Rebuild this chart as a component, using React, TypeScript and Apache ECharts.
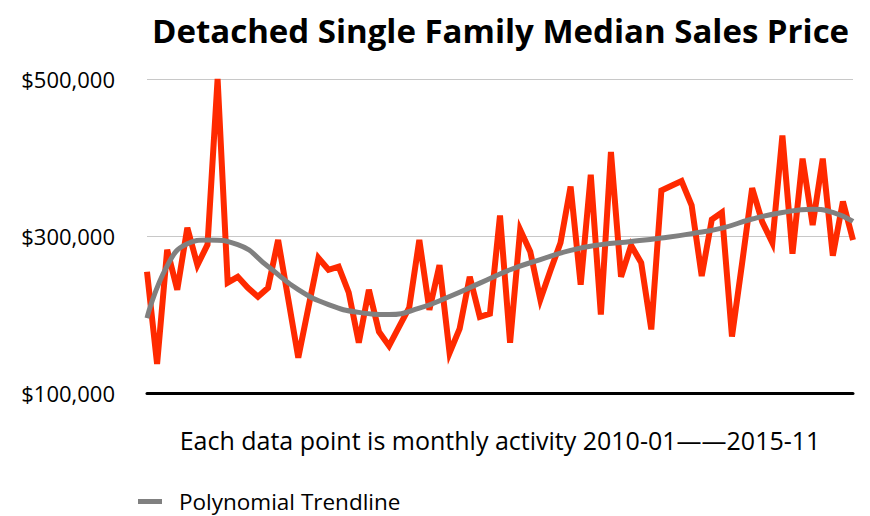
import React, { useEffect, useRef } from "react";
import * as echarts from "echarts";

const titleText = "Detached Single Family Median Sales Price";
const xCaption = "Each data point is monthly activity 2010-01——2015-11";
const trendName = "Polynomial Trendline";
const priceName = "Median Sales Price";

// monthly median sales price, 2010-01 .. 2015-11 (71 months)
const prices = [
  254500, 137000, 282500, 231600, 310600, 263000, 289000, 500000, 240500, 248000,
  234000, 222700, 234000, 295000, 220000, 145000, 208700, 272000, 257000, 261000,
  228000, 164000, 231600, 178000, 160000, 184500, 208700, 295000, 206000, 263000,
  151000, 182000, 248000, 197000, 201000, 326000, 164000, 308000, 280000, 219000,
  256000, 291500, 363000, 238000, 378000, 200000, 407000, 248000, 288000, 266000,
  181000, 358000, 364000, 370000, 339000, 249000, 321000, 330000, 172000, 265000,
  361000, 318000, 291500, 428000, 277500, 398500, 314000, 398500, 275000, 344000,
  295000,
];

// polynomial trendline read at sample months
const trendMonths = [0, 2, 4, 6, 9, 12, 15, 18, 21, 24, 27, 30, 33, 36, 39, 42, 45, 48, 51, 54, 57, 60, 63, 66, 68, 70];
const trendValues = [
  195500, 262000, 290000, 295000, 289000, 261000, 231600, 212500, 202700, 200000,
  208000, 223000, 240000, 257000, 270000, 281700, 289000, 293000, 297500, 303000,
  310000, 321700, 330000, 334000, 330000, 318600,
];

const yTicks = [100000, 300000, 500000];

export default function App() {
  const ref = useRef<HTMLDivElement>(null);
  useEffect(() => {
    if (!ref.current) return;
    const chart = echarts.init(ref.current, null, { renderer: "svg" });
    const font = "'Open Sans', Lato, sans-serif";
    chart.setOption({
      animation: false,
      backgroundColor: "#ffffff",
      title: {
        text: titleText,
        left: 147,
        top: 9,
        textStyle: { fontFamily: font, fontSize: 33, fontWeight: "bold", color: "#000" },
      },
      legend: {
        data: [trendName],
        left: 133,
        top: 485,
        icon: "rect",
        itemWidth: 24,
        itemHeight: 5,
        itemGap: 20,
        textStyle: { fontFamily: font, fontSize: 22.5, color: "#000", padding: [0, 0, 0, 12] },
      },
      grid: { left: 147, right: 17, top: 79, bottom: 123, containLabel: false },
      xAxis: {
        type: "value",
        min: 0,
        max: prices.length - 1,
        name: xCaption,
        nameLocation: "middle",
        nameGap: 34,
        nameTextStyle: { fontFamily: font, fontSize: 25, color: "#000" },
        axisLine: { show: true, lineStyle: { color: "#000", width: 3 } },
        axisTick: { show: false },
        axisLabel: { show: false },
        splitLine: { show: false },
      },
      yAxis: {
        type: "value",
        min: yTicks[0],
        max: yTicks[yTicks.length - 1],
        interval: yTicks[1] - yTicks[0],
        axisLine: { show: false },
        axisTick: { show: false },
        axisLabel: {
          margin: 32,
          fontFamily: font,
          fontSize: 22,
          color: "#000",
          formatter: (v: number) => "$" + v.toLocaleString("en-US"),
        },
        splitLine: { show: true, lineStyle: { color: "#c8c8c8", width: 1 } },
      },
      series: [
        {
          name: priceName,
          type: "line",
          data: prices.map((v, i) => [i, v]),
          showSymbol: false,
          symbol: "none",
          lineStyle: { color: "#ff2a00", width: 6, join: "miter" },
          itemStyle: { color: "#ff2a00" },
          z: 2,
        },
        {
          name: trendName,
          type: "line",
          data: trendMonths.map((m, i) => [m, trendValues[i]]),
          smooth: 0.5,
          showSymbol: false,
          symbol: "none",
          lineStyle: { color: "#808080", width: 5 },
          itemStyle: { color: "#808080" },
          z: 3,
        },
      ],
    });
    return () => chart.dispose();
  }, []);
  return <div ref={ref} style={{ width: 870, height: 516, position: "absolute", left: 0, top: 0 }} />;
}
